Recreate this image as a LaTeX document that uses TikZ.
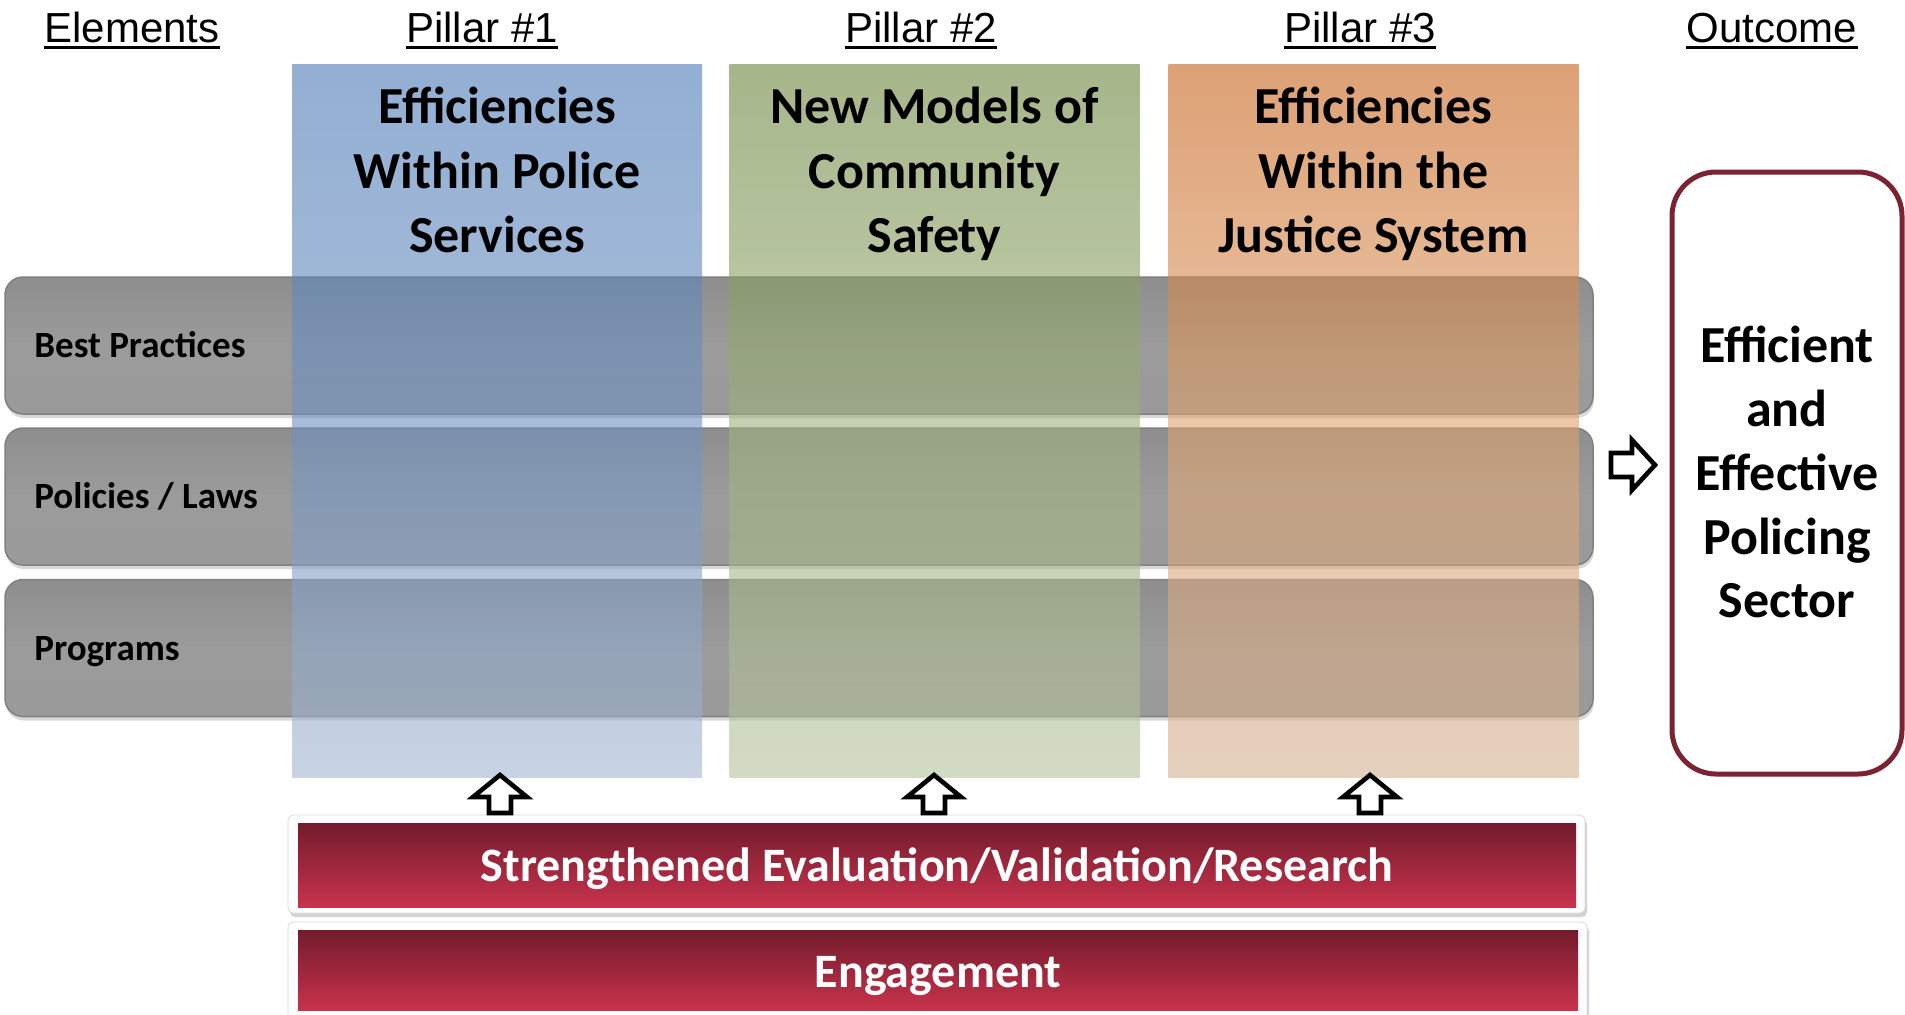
\documentclass[tikz,border=0pt]{standalone}
\usepackage{fontspec}
\setmainfont{Carlito}
\newfontfamily\hdrfont{Liberation Sans}
\usetikzlibrary{shadows,calc}
\definecolor{bartop}{HTML}{8E8E8E}
\definecolor{barmid}{HTML}{9B9B9B}
\definecolor{barbot}{HTML}{9A9A9A}
\definecolor{barline}{HTML}{808080}
\definecolor{bluetop}{HTML}{4B7AB7}
\definecolor{bluemid}{HTML}{6E91C0}
\definecolor{bluebot}{HTML}{A3B7CF}
\definecolor{greentop}{HTML}{6B853C}
\definecolor{greenmid}{HTML}{9DB17B}
\definecolor{greenbot}{HTML}{B6C39D}
\definecolor{orangetop}{HTML}{C8621A}
\definecolor{orangemid}{HTML}{DEA36E}
\definecolor{orangebot}{HTML}{D4B193}
\definecolor{redtop}{HTML}{741B2D}
\definecolor{redbot}{HTML}{C8334C}
\definecolor{outred}{HTML}{7B2333}
\definecolor{framegray}{HTML}{DADADA}
\begin{document}
\begin{tikzpicture}[x=0.5pt,y=-0.5pt,
  hdr/.style={font=\hdrfont\fontsize{21}{25}\selectfont, inner sep=0pt, anchor=base},
  ul/.style={line width=1.5pt, line cap=butt},
  barbox/.style={draw=barline, line width=0.75pt, rounded corners=9pt,
    top color=bartop, bottom color=barbot, middle color=barmid,
    minimum width=794pt, minimum height=68.5pt, inner sep=0pt,
    drop shadow={shadow xshift=0.5pt, shadow yshift=-2pt, opacity=0.3}},
  barlabel/.style={font=\bfseries\fontsize{18.5}{22}\selectfont, inner sep=0pt, anchor=base west},
  pillar/.style={inner sep=0pt, minimum width=205pt, minimum height=356.5pt, fill opacity=0.6, draw=none},
  title/.style={font=\bfseries\fontsize{26}{32.25}\selectfont, align=center, inner sep=0pt},
  outbox/.style={draw=outred, line width=2.5pt, rounded corners=22pt, fill=white,
    minimum width=115pt, minimum height=301pt, inner sep=0pt},
  outtext/.style={font=\bfseries\fontsize{26}{31.9}\selectfont, align=center, inner sep=0pt},
  frame/.style={fill=white, draw=framegray, line width=0.4pt, rounded corners=2.5pt, inner sep=0pt,
    drop shadow={shadow xshift=1pt, shadow yshift=-2pt, opacity=0.35}},
  band/.style={top color=redtop, bottom color=redbot, draw=none, inner sep=0pt},
  bandtext/.style={font=\bfseries\fontsize{24}{28}\selectfont, text=white, inner sep=0pt, anchor=base},
  blockarrow/.style={draw=black, line width=2.3pt, fill=white, line join=miter}
]
\useasboundingbox[fill=white] (0,0) rectangle (1905,1014);

% headers
\node[hdr] (hE) at (132,42) {Elements};
\node[hdr] (hP1) at (482,42) {Pillar \#1};
\node[hdr] (hP2) at (921,42) {Pillar \#2};
\node[hdr] (hP3) at (1360,42) {Pillar \#3};
\node[hdr] (hO) at (1772,42) {Outcome};
\foreach \h in {hE,hP1,hP2,hP3,hO}{
  \draw[ul] ([yshift=-2.5pt]\h.base west) -- ([yshift=-2.5pt]\h.base east);
}

% element bars
\node[barbox] (bar1) at (799,345.5) {};
\node[barbox] (bar2) at (799,496.5) {};
\node[barbox] (bar3) at (799,648) {};
\node[barlabel] (l1) at (34,357.5) {Best Practices};
\node[barlabel] (l2) at (34,508.5) {Policies / Laws};
\node[barlabel] (l3) at (34,660) {Programs};

% pillars
\node[pillar, top color=bluetop, bottom color=bluebot, middle color=bluemid] (p1) at (497,420.5) {};
\node[pillar, top color=greentop, bottom color=greenbot, middle color=greenmid] (p2) at (934.5,420.5) {};
\node[pillar, top color=orangetop, bottom color=orangebot, middle color=orangemid] (p3) at (1373.5,420.5) {};
\node[title] (t1) at (497,175.3) {\strut Efficiencies\\Within Police\\Services\strut};
\node[title] (t2) at (934.5,175.3) {\strut New Models of\\Community\\Safety\strut};
\node[title] (t3) at (1373.5,175.3) {\strut Efficiencies\\Within the\\Justice System\strut};

% outcome
\node[outbox] (ob) at (1787,473) {};
\node[outtext] (ot) at (1787,477.5) {\strut Efficient\\and\\Effective\\Policing\\Sector\strut};

% bottom bands
\node[frame, minimum width=648.5pt, minimum height=49pt] (evf) at (936.5,864) {};
\node[band, minimum width=639pt, minimum height=42pt] (ev) at (937,865) {};
\node[bandtext] (evt) at (937,881.5) {Strengthened Evaluation/Validation/Research};
\node[frame, minimum width=649.5pt, minimum height=49pt] (enf) at (937.5,971) {};
\node[band, minimum width=640pt, minimum height=40pt] (en) at (938,970.5) {};
\node[bandtext] (ent) at (938,987) {Engagement};

% up arrows
\coordinate (ua1) at (500,775);
\coordinate (ua2) at (934,775);
\coordinate (ua3) at (1370,775);
\foreach \c in {ua1,ua2,ua3}{
  \draw[blockarrow] (\c) -- ++(27,22) -- ++(-16,0) -- ++(0,16) -- ++(-22,0) -- ++(0,-16) -- ++(-16,0) -- cycle;
}
% right arrow
\coordinate (ra) at (1655,465);
\draw[blockarrow] (ra) -- ++(-23,-25) -- ++(0,13) -- ++(-21,0) -- ++(0,24) -- ++(21,0) -- ++(0,13) -- cycle;
\end{tikzpicture}
\end{document}
